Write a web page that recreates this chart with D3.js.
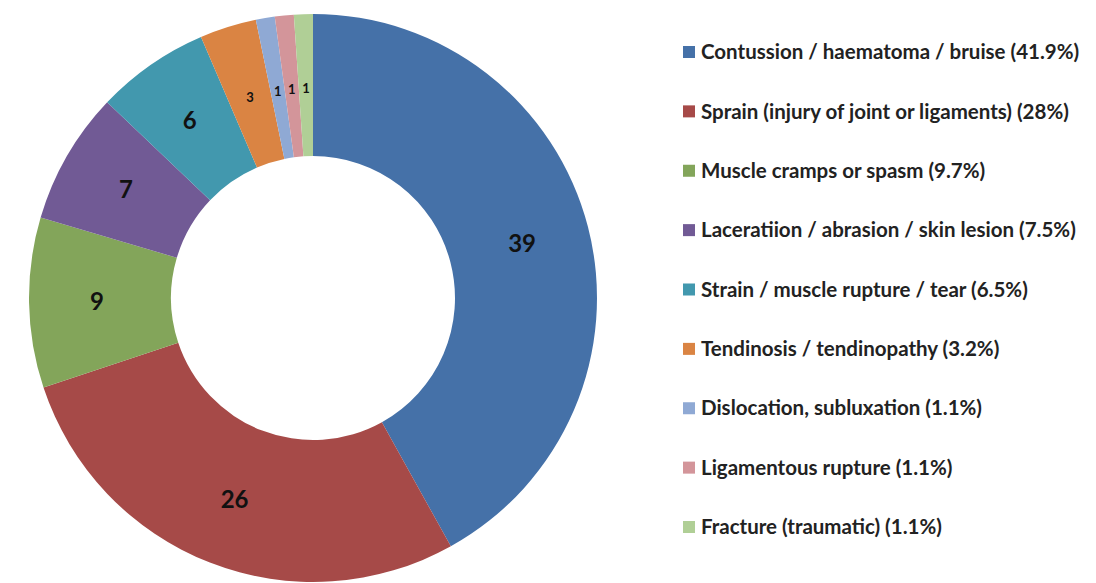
<!DOCTYPE html>
<html>
<head>
  <meta charset="utf-8">
  <title>Injury types</title>
  <script src="https://cdn.jsdelivr.net/npm/d3@7"></script>
  <style>
    body { margin: 0; background: #fff; }
    .label { font-family: Lato, "Open Sans", sans-serif; font-weight: bold; fill: #111; }
    .legend text { font-family: Lato, "Open Sans", sans-serif; font-weight: bold; font-size: 20.5px; fill: #222; }
  </style>
</head>
<body>
<script>
  // data
  var categories = [
    "Contussion / haematoma / bruise",
    "Sprain (injury of joint or ligaments)",
    "Muscle cramps or spasm",
    "Laceratiion / abrasion / skin lesion",
    "Strain / muscle rupture / tear",
    "Tendinosis / tendinopathy",
    "Dislocation, subluxation",
    "Ligamentous rupture",
    "Fracture (traumatic)"
  ];
  var counts = [39, 26, 9, 7, 6, 3, 1, 1, 1];
  var percents = ["41.9%", "28%", "9.7%", "7.5%", "6.5%", "3.2%", "1.1%", "1.1%", "1.1%"];
  var colors = ["#4571a8", "#a64a48", "#83a55a", "#715a95", "#4298ae", "#da8443", "#8fa9d4", "#d3959a", "#b0cf96"];

  var width = 1096, height = 583;
  var cx = 313, cy = 298;
  var outerR = 284, innerR = 142;

  var svg = d3.select("body").append("svg")
    .attr("width", width)
    .attr("height", height);

  var pie = d3.pie().sort(null).value(function(d) { return d; });
  var arc = d3.arc().innerRadius(innerR).outerRadius(outerR);
  // big labels sit a little further out than the small ones
  var labelArc = d3.arc().innerRadius(216).outerRadius(216);
  var smallArc = d3.arc().innerRadius(210).outerRadius(210);

  var g = svg.append("g").attr("transform", "translate(" + cx + "," + cy + ")");

  var arcs = pie(counts);

  g.selectAll("path")
    .data(arcs)
    .enter()
    .append("path")
    .attr("d", arc)
    .attr("fill", function(d, i) { return colors[i]; });

  g.selectAll("text")
    .data(arcs)
    .enter()
    .append("text")
    .attr("class", "label")
    .attr("transform", function(d) {
      var a = d.value >= 6 ? labelArc : smallArc;
      return "translate(" + a.centroid(d) + ")";
    })
    .attr("text-anchor", "middle")
    .attr("dy", "0.35em")
    .style("font-size", function(d) { return d.value >= 6 ? "24px" : "13px"; })
    .text(function(d) { return d.value; });

  // legend
  var legendY = d3.scaleLinear().domain([0, categories.length - 1]).range([52, 527]);

  var legend = svg.append("g").attr("class", "legend");
  var rows = legend.selectAll("g")
    .data(categories)
    .enter()
    .append("g")
    .attr("transform", function(d, i) { return "translate(683," + legendY(i) + ")"; });

  rows.append("rect")
    .attr("x", 0)
    .attr("y", -6)
    .attr("width", 12)
    .attr("height", 12)
    .attr("fill", function(d, i) { return colors[i]; });

  rows.append("text")
    .attr("x", 18)
    .attr("dy", "0.35em")
    .text(function(d, i) { return d + " (" + percents[i] + ")"; });
</script>
</body>
</html>
